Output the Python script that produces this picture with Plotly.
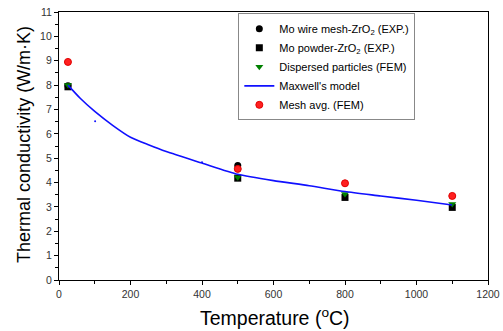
import plotly.graph_objects as go

# Data
wire_T = [25, 500]
wire_k = [7.97, 4.70]

powder_T = [25, 500, 800, 1100]
powder_k = [7.93, 4.18, 3.39, 2.98]

disp_T = [25, 500, 800, 1100]
disp_k = [8.0, 4.22, 3.53, 3.12]

maxwell_T = [25, 60, 100, 150, 200, 250, 300, 400, 500, 600, 700, 800, 900, 1000, 1100]
maxwell_k = [8.0, 7.45, 6.92, 6.35, 5.86, 5.55, 5.27, 4.80, 4.34, 4.08, 3.87, 3.63, 3.45, 3.27, 3.08]

stray_T = [101, 400]
stray_k = [6.52, 4.83]

mesh_T = [25, 500, 800, 1100]
mesh_k = [8.95, 4.56, 3.97, 3.45]

x_title = "Temperature (<sup>o</sup>C)"
y_title = "Thermal conductivity (W/m·K)"

FONT = "Liberation Sans, Arial, sans-serif"

fig = go.Figure()
fig.add_trace(go.Scatter(x=wire_T, y=wire_k, mode="markers", name="Mo wire mesh-ZrO<sub>2</sub> (EXP.)",
                         marker=dict(symbol="circle", size=7, color="black")))
fig.add_trace(go.Scatter(x=powder_T, y=powder_k, mode="markers", name="Mo powder-ZrO<sub>2</sub> (EXP.)",
                         marker=dict(symbol="square", size=7, color="black")))
fig.add_trace(go.Scatter(x=disp_T, y=disp_k, mode="markers", name="Dispersed particles (FEM)",
                         marker=dict(symbol="triangle-down", size=7, color="#008000")))
fig.add_trace(go.Scatter(x=maxwell_T, y=maxwell_k, mode="lines", name="Maxwell's model",
                         line=dict(color="#1010ff", width=1.6, shape="spline", smoothing=0.6)))
fig.add_trace(go.Scatter(x=stray_T, y=stray_k, mode="markers", showlegend=False,
                         marker=dict(symbol="circle", size=2, color="#1010ff")))
fig.add_trace(go.Scatter(x=mesh_T, y=mesh_k, mode="markers", name="Mesh avg. (FEM)",
                         marker=dict(symbol="circle", size=7, color="#ff2020",
                                     line=dict(color="#e00000", width=1))))

axis_common = dict(
    showline=True, linecolor="black", linewidth=1.2, mirror=True,
    ticks="outside", ticklen=4, tickwidth=1, tickcolor="black",
    showgrid=False, zeroline=False, automargin=False,
    tickfont=dict(family=FONT, size=10.5, color="#333333"),
)

fig.update_xaxes(range=[0, 1200], tickmode="linear", tick0=0, dtick=200,
                 minor=dict(ticks="outside", ticklen=3, dtick=100, tickcolor="black"),
                 **axis_common)
fig.update_yaxes(range=[0, 11], tickmode="linear", tick0=0, dtick=1,
                 minor=dict(ticks="outside", ticklen=3, dtick=0.5, tickcolor="black"),
                 **axis_common)

fig.add_annotation(text=x_title, xref="paper", yref="paper", x=0.503, y=0,
                   xanchor="center", yanchor="middle", yshift=-37, showarrow=False,
                   font=dict(family=FONT, size=19.5, color="black"))
fig.add_annotation(text=y_title, xref="paper", yref="paper", x=0, y=0.504,
                   xanchor="center", yanchor="middle", xshift=-35, textangle=-90, showarrow=False,
                   font=dict(family=FONT, size=18, color="black"))

fig.update_layout(
    width=503, height=331,
    margin=dict(l=59, r=15, t=12, b=51, autoexpand=False),
    paper_bgcolor="white", plot_bgcolor="white",
    showlegend=True,
    legend=dict(x=0.418, y=0.995, xanchor="left", yanchor="top",
                bgcolor="white", bordercolor="#888888", borderwidth=1,
                font=dict(family=FONT, size=11, color="black"),
                tracegroupgap=0, itemwidth=30),
)

fig.write_html("out.html", config={"displayModeBar": False},
               post_script="document.body.style.margin='0';document.body.style.overflow='hidden';")
